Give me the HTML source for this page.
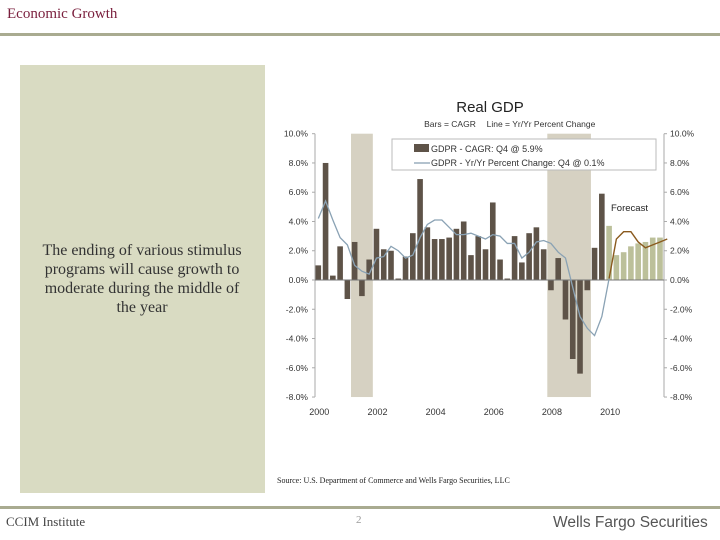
<!DOCTYPE html>
<html><head><meta charset="utf-8"><style>
body{margin:0;width:720px;height:540px;background:#fff;position:relative;overflow:hidden;font-family:"Liberation Serif",serif}
.abs{position:absolute}
</style></head><body>
<div class="abs" style="left:7px;top:6px;font-size:15px;color:#7a1f3d">Economic Growth</div>
<div class="abs" style="left:0;top:33px;width:720px;height:3px;background:#a9ab90"></div>
<div class="abs" style="left:20px;top:65px;width:245px;height:428px;background:#d9dbc2"></div>
<div class="abs" style="left:36px;top:241px;width:212px;text-align:center;font-size:16px;line-height:19px;color:#333">The ending of various stimulus programs will cause growth to moderate during the middle of the year</div>
<svg class="abs" style="left:0;top:0" width="720" height="540" id="chart" font-family="Liberation Sans, sans-serif"></svg>
<div class="abs" style="left:277px;top:476px;font-size:8px;color:#222">Source: U.S. Department of Commerce and Wells Fargo Securities, LLC</div>
<div class="abs" style="left:0;top:506px;width:720px;height:3px;background:#a9ab90"></div>
<div class="abs" style="left:6px;top:514px;font-size:13px;color:#444">CCIM Institute</div>
<div class="abs" style="left:356px;top:514px;font-size:11px;color:#999">2</div>
<div class="abs" style="left:553px;top:514px;font-size:15.5px;color:#555;white-space:nowrap;font-family:'Liberation Sans',sans-serif">Wells Fargo Securities</div>
<script>
const cagr=[1.0,8.0,0.3,2.3,-1.3,2.6,-1.1,1.4,3.5,2.1,2.0,0.1,1.6,3.2,6.9,3.6,2.8,2.8,2.9,3.5,4.0,1.7,3.0,2.1,5.3,1.4,0.1,3.0,1.2,3.2,3.6,2.1,-0.7,1.5,-2.7,-5.4,-6.4,-0.7,2.2,5.9];
const cagrForecast=[3.7,1.7,1.9,2.3,2.5,2.6,2.9,2.9];
const yoy=[4.2,5.4,4.1,2.9,2.4,1.0,0.6,0.4,1.5,1.6,2.3,2.0,1.5,1.7,2.9,3.8,4.1,4.1,3.6,3.1,3.1,3.2,3.0,2.8,3.1,3.0,2.5,2.5,1.5,1.9,2.6,2.7,2.5,1.9,1.5,-0.5,-2.5,-3.3,-3.8,-2.5,0.1];
const yoyForecast=[0.1,2.8,3.3,3.3,2.6,2.2,2.4,2.6,2.8];
const yTicks=[10,8,6,4,2,0,-2,-4,-6,-8];
const xLabels=["2000","2002","2004","2006","2008","2010"];
const recessions=[[4.5,7.5],[31.5,37.5]];
const svg=document.getElementById('chart');
const NS='http://www.w3.org/2000/svg';
const x0=315,x1=664,qw=7.27;
const X=i=>x0+3.3+qw*i;
const Y=v=>280-v*14.63;
function mk(t,a,txt){const e=document.createElementNS(NS,t);for(const k in a)e.setAttribute(k,a[k]);if(txt!=null)e.textContent=txt;svg.appendChild(e);return e;}
recessions.forEach(r=>{const e=mk('rect',{x:X(r[0]),y:Y(10),width:(r[1]-r[0])*qw,height:Y(-8)-Y(10),fill:'#d6d1c2'});

});
let a=mk('line',{x1:x0,x2:x0,y1:Y(10),y2:Y(-8),stroke:'#aaa'});
a=mk('line',{x1:x1,x2:x1,y1:Y(10),y2:Y(-8),stroke:'#aaa'});
yTicks.forEach(v=>{
let t=mk('text',{x:308,y:Y(v)+3,'font-size':8.5,'text-anchor':'end',fill:'#333'},v.toFixed(1)+'%');


t=mk('text',{x:670,y:Y(v)+3,'font-size':8.5,fill:'#333'},v.toFixed(1)+'%');


mk('line',{x1:x0-3,x2:x0,y1:Y(v),y2:Y(v),stroke:'#aaa'});mk('line',{x1:x1,x2:x1+3,y1:Y(v),y2:Y(v),stroke:'#aaa'});
});
xLabels.forEach((l,i)=>{const t=mk('text',{x:X(i*8)+1,y:415,'font-size':9,'text-anchor':'middle',fill:'#333'},l);

});
const bw=5.6;
cagr.forEach((v,i)=>{const b=mk('rect',{x:X(i)-bw/2,y:Math.min(Y(v),Y(0)),width:bw,height:Math.abs(Y(v)-Y(0)),fill:'#5e5348'});

});
cagrForecast.forEach((v,i)=>{const j=i+cagr.length;const b=mk('rect',{x:X(j)-bw/2,y:Math.min(Y(v),Y(0)),width:bw,height:Math.abs(Y(v)-Y(0)),fill:'#bcc09a'});

});
a=mk('line',{x1:x0,x2:x1,y1:Y(0),y2:Y(0),stroke:'#777'});
let p=mk('polyline',{points:yoy.map((v,i)=>X(i)+','+Y(v)).join(' '),fill:'none',stroke:'#8aa2b4','stroke-width':1.3});


p=mk('polyline',{points:yoyForecast.map((v,i)=>X(i+yoy.length-1)+','+Y(v)).join(' '),fill:'none',stroke:'#8a5a1e','stroke-width':1.4});


let t=mk('text',{x:490,y:112,'font-size':15,'text-anchor':'middle',fill:'#222'},'Real GDP');
t=mk('text',{x:450,y:127,'font-size':8.5,'text-anchor':'middle',fill:'#333'},'Bars = CAGR');
t=mk('text',{x:541,y:127,'font-size':8.5,'text-anchor':'middle',fill:'#333'},'Line = Yr/Yr Percent Change');
const lg=mk('rect',{x:392,y:139,width:264,height:31,fill:'#fff',stroke:'#bbb'});
mk('rect',{x:414,y:144,width:15,height:8,fill:'#5e5348'});
t=mk('text',{x:431,y:152,'font-size':9,fill:'#333'},'GDPR - CAGR: Q4 @ 5.9%');
mk('line',{x1:414,x2:430,y1:163,y2:163,stroke:'#8aa2b4','stroke-width':1.3});
t=mk('text',{x:431,y:166,'font-size':9,fill:'#333'},'GDPR - Yr/Yr Percent Change: Q4 @ 0.1%');
t=mk('text',{x:611,y:211,'font-size':9.5,fill:'#222'},'Forecast');
</script>
</body></html>
